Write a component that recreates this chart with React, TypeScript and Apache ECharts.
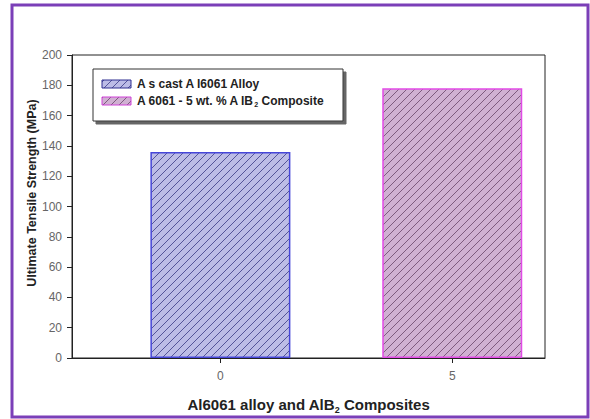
import React, { useEffect, useRef } from "react";
import * as echarts from "echarts";

// Chart data
const xTickValues = [0, 5];
const alloyValues: [number, number][] = [[0, 136]];
const compositeValues: [number, number][] = [[5, 178]];
const yTicks = { min: 0, max: 200, interval: 20 };
const seriesNames = ["A s cast A l6061 Alloy", "A 6061 - 5 wt. % A lB"];
const yTitle = "Ultimate Tensile Strength (MPa)";

// Diagonal hatch tile ("/" lines) used as a repeating fill
function hatch(bg: string, line: string, size = 8) {
  const svg =
    `<svg xmlns="http://www.w3.org/2000/svg" width="${size}" height="${size}">` +
    `<rect width="${size}" height="${size}" fill="${bg}"/>` +
    `<path d="M-1 ${size + 1} L${size + 1} -1 M-1 1 L1 -1 M${size - 1} ${size + 1} L${size + 1} ${size - 1}" stroke="${line}" stroke-width="0.8"/>` +
    `</svg>`;
  return {
    image: "data:image/svg+xml;utf8," + encodeURIComponent(svg),
    repeat: "repeat",
    imageWidth: size,
    imageHeight: size,
  } as any;
}

export default function App() {
  const ref = useRef<HTMLDivElement>(null);

  useEffect(() => {
    if (!ref.current) return;
    const chart = echarts.init(ref.current, null, { renderer: "svg" });
    const blueFill = hatch("#bcbce6", "#3a3a84");
    const pinkFill = hatch("#d0b0d2", "#6a4468");

    const font = "Arial, 'Liberation Sans', sans-serif";

    chart.setOption({
      animation: false,
      backgroundColor: "#ffffff",
      grid: {
        left: 72,
        top: 55,
        width: 473,
        height: 303,
        show: true,
        borderColor: "#222",
        borderWidth: 1,
        backgroundColor: "transparent",
      },
      xAxis: {
        type: "value",
        min: -3.2,
        max: 7,
        name: "{a|Al6061 alloy and AlB}{s|2}{a| Composites}",
        nameLocation: "middle",
        nameGap: 37,
        nameTextStyle: {
          rich: {
            a: { fontFamily: font, fontWeight: "bold", fontSize: 15, color: "#222" },
            s: { fontFamily: font, fontWeight: "bold", fontSize: 9, color: "#222", padding: [10, 0, 0, 0] },
          },
        },
        axisLine: { show: true, onZero: false, lineStyle: { color: "#222", width: 1 } },
        axisTick: { show: true, length: 5, customValues: xTickValues, lineStyle: { color: "#222" } },
        axisLabel: { customValues: xTickValues, fontFamily: font, fontSize: 12, color: "#666", margin: 12 },
        splitLine: { show: false },
      },
      yAxis: {
        type: "value",
        min: yTicks.min,
        max: yTicks.max,
        interval: yTicks.interval,
        axisLine: { show: true, onZero: false, lineStyle: { color: "#222", width: 1 } },
        axisTick: { show: true, length: 5, lineStyle: { color: "#222" } },
        axisLabel: { fontFamily: font, fontSize: 12, color: "#666", margin: 10 },
        splitLine: { show: false },
      },
      series: [
        {
          name: seriesNames[0],
          type: "bar",
          data: alloyValues,
          barWidth: 140,
          barGap: "-100%",
          itemStyle: { color: blueFill, borderColor: "#4646d8", borderWidth: 1.5 },
        },
        {
          name: seriesNames[1],
          type: "bar",
          data: compositeValues,
          barWidth: 140,
          barGap: "-100%",
          itemStyle: { color: pinkFill, borderColor: "#e24ae6", borderWidth: 1.5 },
        },
      ],
      graphic: [
        {
          type: "rect",
          shape: { x: 12, y: 5, width: 576, height: 412 },
          style: { fill: "none", stroke: "#7b3fb8", lineWidth: 3 },
          silent: true,
        },
        {
          type: "text",
          x: 32,
          y: 193,
          rotation: Math.PI / 2,
          style: {
            text: yTitle,
            fontFamily: font,
            fontWeight: "bold",
            fontSize: 12.5,
            fill: "#222",
            align: "center",
            verticalAlign: "middle",
          },
        },
        {
          type: "rect",
          shape: { x: 93, y: 69, width: 250, height: 52 },
          style: {
            fill: "#ffffff",
            stroke: "#333",
            lineWidth: 1,
            shadowColor: "rgba(0,0,0,0.6)",
            shadowOffsetX: 3,
            shadowOffsetY: 3,
            shadowBlur: 1,
          },
          z: 10,
        },
        {
          type: "rect",
          shape: { x: 102, y: 80, width: 29, height: 8 },
          style: { fill: blueFill, stroke: "#2e2e90", lineWidth: 1 },
          z: 11,
        },
        {
          type: "rect",
          shape: { x: 102, y: 97, width: 29, height: 8 },
          style: { fill: pinkFill, stroke: "#d040d8", lineWidth: 1 },
          z: 11,
        },
        {
          type: "text",
          x: 137,
          y: 84,
          style: {
            text: seriesNames[0],
            fontFamily: font,
            fontWeight: "bold",
            fontSize: 12,
            fill: "#222",
            verticalAlign: "middle",
          },
          z: 11,
        },
        {
          type: "text",
          x: 137,
          y: 101,
          style: {
            text: "{a|" + seriesNames[1] + "}{s|2}{a| Composite}",
            verticalAlign: "middle",
            rich: {
              a: { fontFamily: font, fontWeight: "bold", fontSize: 12, fill: "#222" },
              s: { fontFamily: font, fontWeight: "bold", fontSize: 7, fill: "#222", padding: [7, 0, 0, 0] },
            },
          },
          z: 11,
        },
      ],
    });

    return () => chart.dispose();
  }, []);

  return (
    <div
      ref={ref}
      style={{ position: "absolute", left: 0, top: 0, width: 590, height: 419, background: "#fff" }}
    />
  );
}
